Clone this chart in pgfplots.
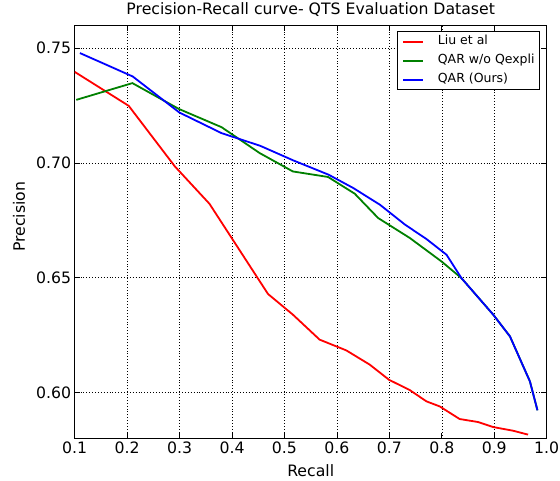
\documentclass[border=0pt]{standalone}
\usepackage{fontspec}
\setmainfont{DejaVu Sans}
\usepackage{pgfplots}
\pgfplotsset{compat=1.18}

\definecolor{mplred}{rgb}{1,0,0}
\definecolor{mplgreen}{rgb}{0,0.5,0}
\definecolor{mplblue}{rgb}{0,0,1}

\begin{document}
\begin{tikzpicture}
\useasboundingbox (0,0) rectangle (560bp,481bp);
\begin{axis}[
    at={(74.7bp,42.7bp)}, anchor=south west,
    scale only axis, width=472bp, height=413bp,
    xmin=0.1, xmax=1.0, ymin=0.58, ymax=0.76,
    xtick={0.1,0.2,...,1.0}, ytick={0.60,0.65,0.70,0.75},
    font=\fontsize{15.7bp}{18bp}\selectfont,
    /pgf/number format/assume math mode=true,
    xticklabel style={/pgf/number format/.cd, fixed, fixed zerofill, precision=1},
    yticklabel style={/pgf/number format/.cd, fixed, fixed zerofill, precision=2},
    tick align=inside, tick pos=both, major tick length=5.5bp,
    tick style={black, line width=0.7bp},
    axis line style={black, line width=0.9bp},
    grid=major,
    major grid style={black, line width=0.6bp, dash pattern=on 0.7bp off 2.2bp},
    title={Precision-Recall curve- QTS Evaluation Dataset},
    title style={at={(axis description cs:0.5,1)}, anchor=base, yshift=4.6bp, inner sep=0pt},
    xlabel={Recall},
    xlabel style={at={(axis description cs:0.5,0)}, anchor=base, yshift=-38.4bp, inner sep=0pt},
    ylabel={Precision},
    every axis y label/.style={at={(axis description cs:-0.1053,0.536)}, anchor=base, rotate=90, inner sep=0pt},
    legend cell align=left,
    legend image code/.code={\draw[#1, line width=2bp] (0bp,0bp) -- (20bp,0bp);},
    legend style={
        at={(axis description cs:1,1)}, anchor=north east,
        xshift=-6.7bp, yshift=-6bp,
        font=\fontsize{12.5bp}{14bp}\selectfont,
        draw=black, line width=0.8bp,
        inner xsep=5bp, inner ysep=4bp, row sep=7bp,
        nodes={inner sep=0bp, text height=9bp, text depth=3bp},
        /tikz/every odd column/.append style={column sep=13.7bp},
    },
]
\addplot[mplred, line width=1.8bp] coordinates {
    (0.100,0.7397) (0.203,0.7249) (0.291,0.6985) (0.357,0.6822)
    (0.4686,0.6429) (0.516,0.6339) (0.567,0.6230) (0.618,0.6183)
    (0.6626,0.6121) (0.6994,0.6055) (0.739,0.6010) (0.7707,0.5961)
    (0.796,0.5939) (0.834,0.5884) (0.869,0.5871) (0.898,0.5849)
    (0.936,0.5833) (0.9645,0.5816)
};
\addlegendentry{Liu et al}
\addplot[mplgreen, line width=1.8bp] coordinates {
    (0.103,0.7275) (0.210,0.7348) (0.299,0.7235) (0.380,0.7156)
    (0.4528,0.7043) (0.516,0.6963) (0.583,0.6939) (0.634,0.6866)
    (0.6786,0.6760) (0.739,0.6673) (0.7993,0.6571) (0.8375,0.6498)
    (0.898,0.6339) (0.930,0.6244) (0.968,0.6048) (0.9824,0.5922)
};
\addlegendentry{QAR w/o Qexpli}
\addplot[mplblue, line width=1.8bp] coordinates {
    (0.110,0.7479) (0.2106,0.7377) (0.2995,0.7220) (0.380,0.7130)
    (0.4535,0.7075) (0.517,0.7011) (0.584,0.6949) (0.631,0.6891)
    (0.682,0.6818) (0.730,0.6731) (0.771,0.6668) (0.809,0.6600)
    (0.8375,0.6498) (0.898,0.6339) (0.930,0.6244) (0.968,0.6048)
    (0.9824,0.5922)
};
\addlegendentry{QAR (Ours)}
\end{axis}
\end{tikzpicture}
\end{document}
